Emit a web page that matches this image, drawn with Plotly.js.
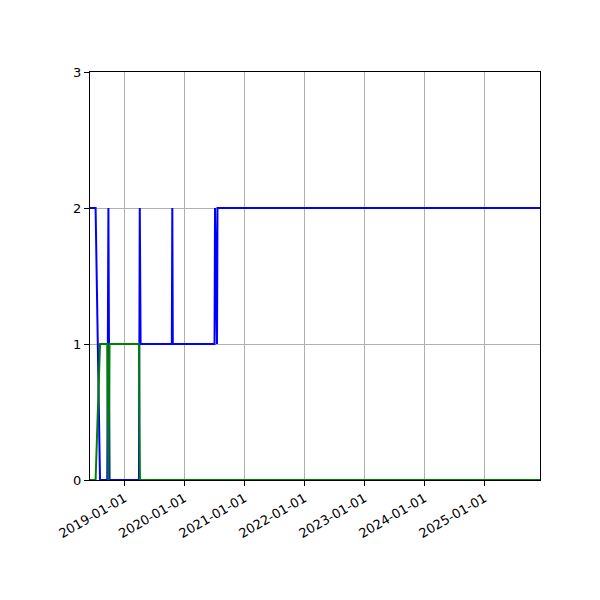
<!DOCTYPE html>
<html>
<head>
<meta charset="utf-8">
<script src="https://cdn.plot.ly/plotly-3.0.1.min.js"></script>
<style>
	body { margin: 0; background: #ffffff; }
	#chart { width: 600px; height: 600px; }
</style>
</head>
<body>
<div id="chart"></div>
<script>
// values
var blueDates = ["2018-06-06", "2018-07-10", "2018-08-06", "2018-09-19", "2018-09-26", "2018-10-03",
	"2019-03-31", "2019-04-05", "2019-04-10", "2019-10-17", "2019-10-20", "2019-10-23",
	"2020-07-03", "2020-07-06", "2020-07-18", "2020-07-21", "2025-12-05"];
var blueValues = [2, 2, 0, 0, 2, 0,
	0, 2, 1, 1, 2, 1,
	1, 2, 1, 2, 2];

var greenDates = ["2018-06-06", "2018-07-10", "2018-08-06", "2018-09-19", "2018-09-26", "2018-10-03",
	"2019-03-31", "2019-04-06", "2025-12-05"];
var greenValues = [0, 0, 1, 1, 0, 1,
	1, 0, 0];

var xTicks = ["2019-01-01", "2020-01-01", "2021-01-01", "2022-01-01", "2023-01-01", "2024-01-01", "2025-01-01"];
var yTicks = [0, 1, 2, 3];
var xRange = ["2018-06-06", "2025-12-05"];

var blue = {
	x: blueDates,
	y: blueValues,
	type: "scatter",
	mode: "lines",
	line: {color: "#0000ff", width: 2},
	hoverinfo: "skip"
};

var green = {
	x: greenDates,
	y: greenValues,
	type: "scatter",
	mode: "lines",
	line: {color: "#008000", width: 2},
	hoverinfo: "skip"
};

var layout = {
	width: 600,
	height: 600,
	showlegend: false,
	paper_bgcolor: "#ffffff",
	plot_bgcolor: "#ffffff",
	margin: {l: 90, r: 60, t: 72, b: 120, pad: 0},
	font: {family: "DejaVu Sans", size: 13, color: "#000000"},
	xaxis: {
		type: "date",
		range: xRange,
		tickmode: "array",
		tickvals: xTicks,
		ticktext: xTicks,
		tickangle: -30,
		ticks: "outside",
		ticklen: 5,
		tickcolor: "#000000",
		showgrid: true,
		gridcolor: "#b0b0b0",
		gridwidth: 1,
		zeroline: false,
		showline: true,
		linecolor: "#000000",
		linewidth: 1,
		mirror: true
	},
	yaxis: {
		range: [0, 3],
		tickmode: "array",
		tickvals: yTicks,
		ticks: "outside",
		ticklen: 5,
		tickcolor: "#000000",
		showgrid: true,
		gridcolor: "#b0b0b0",
		gridwidth: 1,
		zeroline: false,
		showline: true,
		linecolor: "#000000",
		linewidth: 1,
		mirror: true
	}
};

Plotly.newPlot("chart", [blue, green], layout, {staticPlot: true});
</script>
</body>
</html>
